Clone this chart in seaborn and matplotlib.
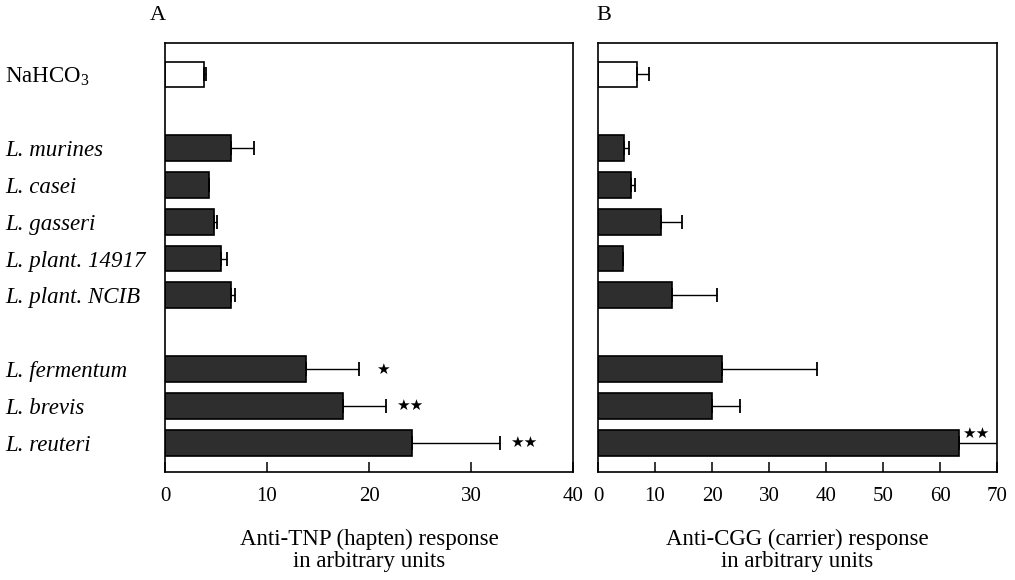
import matplotlib
matplotlib.use('Agg')
import matplotlib.pyplot as plt
import seaborn as sns
import pandas as pd
import numpy as np

# ---- data ----
strains = ['NaHCO$_3$', 'L. murines', 'L. casei', 'L. gasseri', 'L. plant. 14917',
           'L. plant. NCIB', 'L. fermentum', 'L. brevis', 'L. reuteri']
groups = ['control'] + ['strain'] * 8
tnp_mean = [3.8, 6.5, 4.3, 4.8, 5.5, 6.5, 13.8, 17.4, 24.2]
tnp_err = [0.2, 2.2, 0.0, 0.3, 0.6, 0.4, 5.2, 4.3, 8.6]
cgg_mean = [6.9, 4.6, 5.7, 11.1, 4.4, 12.9, 21.7, 20.0, 63.3]
cgg_err = [2.1, 0.9, 0.8, 3.6, 0.0, 7.9, 16.8, 4.9, 9.0]
tnp_signif = ['', '', '', '', '', '', '\u2605', '\u2605\u2605', '\u2605\u2605']
cgg_signif = ['', '', '', '', '', '', '', '', '\u2605\u2605']
tnp_ticks = [0, 10, 20, 30, 40]
cgg_ticks = [0, 10, 20, 30, 40, 50, 60, 70]
tnp_label = 'Anti-TNP (hapten) response\nin arbitrary units'
cgg_label = 'Anti-CGG (carrier) response\nin arbitrary units'

# ---- layout (slot positions with gaps between groups) ----
slot = [0, 2, 3, 4, 5, 6, 8, 9, 10]

sns.set_style('ticks')
plt.rcParams['font.family'] = ['Liberation Serif', 'DejaVu Serif']
plt.rcParams['mathtext.fontset'] = 'custom'
plt.rcParams['mathtext.rm'] = 'Liberation Serif'
plt.rcParams['mathtext.it'] = 'Liberation Serif:italic'
for k in ['text.color', 'axes.labelcolor', 'xtick.color', 'ytick.color']:
    plt.rcParams[k] = 'black'

fig = plt.figure(figsize=(10.15, 5.8), dpi=100)
axA = fig.add_axes([0.1626, 0.186, 0.402, 0.7397])
axB = fig.add_axes([0.5892, 0.186, 0.3931, 0.7397])

palette = {'control': 'white', 'strain': '#2e2e2e'}


def panel(ax, means, errs, signif, ticks, xlabel, star_off, from_err):
    df = pd.DataFrame({'pos': slot, 'val': means, 'group': groups})
    sns.barplot(data=df, x='val', y='pos', hue='group', palette=palette,
                orient='h', native_scale=True, dodge=False, width=0.7,
                edgecolor='black', linewidth=1.2, legend=False,
                errorbar=None, ax=ax)
    ax.errorbar(means, slot, xerr=[np.zeros(len(errs)), errs], fmt='none',
                ecolor='black', elinewidth=1.0, capsize=5, capthick=1.3)
    for m, e, s, p in zip(means, errs, signif, slot):
        if s:
            ax.annotate(s, xy=((m + e) if from_err else m, p),
                        xytext=star_off, textcoords='offset points',
                        ha='center', va='center', fontsize=11,
                        family='DejaVu Sans', annotation_clip=False)
    ax.set_xlim(ticks[0], ticks[-1])
    ax.set_ylim(10.8, -0.85)
    ax.set_xticks(ticks)
    ax.set_xticklabels([str(t) for t in ticks], fontsize=15)
    ax.tick_params(axis='x', direction='in', length=7, width=1.1, pad=11)
    ax.set_xlabel(xlabel, fontsize=16.5, labelpad=16, linespacing=1.1)
    ax.set_ylabel('')
    for sp in ax.spines.values():
        sp.set_visible(True)
        sp.set_linewidth(1.2)
        sp.set_color('black')


panel(axA, tnp_mean, tnp_err, tnp_signif, tnp_ticks, tnp_label, (17, 0), True)
panel(axB, cgg_mean, cgg_err, cgg_signif, cgg_ticks, cgg_label, (12, 6.5), False)

# y labels on panel A only, left aligned at the figure edge
axA.set_yticks(slot)
axA.set_yticklabels(strains, fontsize=16.5)
axA.tick_params(axis='y', length=0, pad=115)
for i, lab in enumerate(axA.get_yticklabels()):
    lab.set_horizontalalignment('left')
    if i > 0:
        lab.set_fontstyle('italic')
axB.set_yticks(slot)
axB.set_yticklabels([])
axB.tick_params(axis='y', length=0)

fig.text(158 / 1015, 1 - 15 / 580, 'A', fontsize=16, ha='center', va='center')
fig.text(604 / 1015, 1 - 15 / 580, 'B', fontsize=16, ha='center', va='center')

fig.savefig('out.png', dpi=100)
